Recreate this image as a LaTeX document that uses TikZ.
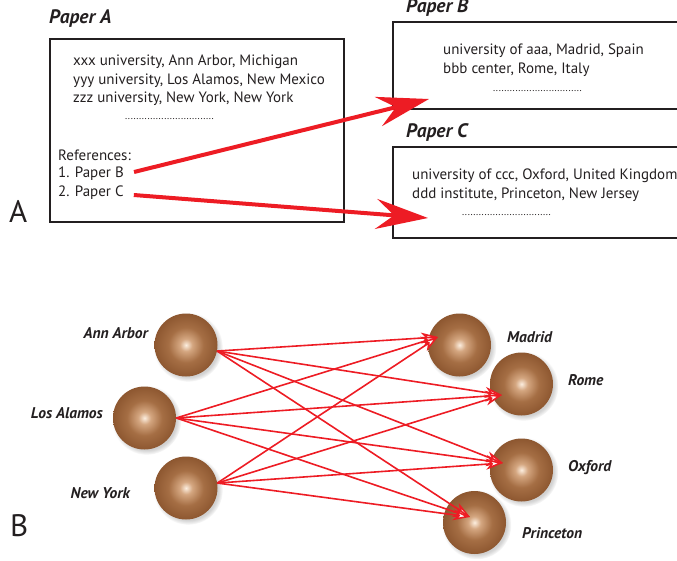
\documentclass[tikz,border=0pt]{standalone}
\usepackage{fontspec}
\setmainfont{PT Sans}
\usetikzlibrary{arrows.meta,calc,shadows}
\definecolor{myred}{HTML}{ED1C24}
\definecolor{ink}{HTML}{231F20}
\definecolor{sph0}{HTML}{FCEEDF}
\definecolor{sph1}{HTML}{D4A680}
\definecolor{sph2}{HTML}{A56E44}
\definecolor{sph3}{HTML}{87512B}
\definecolor{sph4}{HTML}{6B3318}
\definecolor{sph5}{HTML}{4A1D0A}
\pgfdeclareradialshading{sphere}{\pgfpoint{0bp}{0bp}}{color(0bp)=(sph0); color(5bp)=(sph1); color(14bp)=(sph2); color(28bp)=(sph3); color(41bp)=(sph4); color(50bp)=(sph5); color(100bp)=(sph5)}
\begin{document}
\begin{tikzpicture}[x=1pt,y=-1pt,
  body/.style={font=\fontsize{15}{18}\selectfont, text=ink, inner sep=0pt, anchor=west},
  dots/.style={font=\fontsize{10}{12}\selectfont, text=ink, inner sep=0pt, anchor=west},
  ttl/.style={font=\fontsize{19.5}{22}\selectfont\bfseries\itshape, text=ink, inner sep=0pt, anchor=west},
  big/.style={font=\fontsize{31}{34}\selectfont, text=ink, inner sep=0pt, anchor=west},
  lbl/.style={font=\fontsize{15.5}{18}\selectfont\bfseries\itshape, text=ink, inner sep=0pt},
  paper/.style={draw=ink, line width=2pt, anchor=north west, inner sep=0pt},
  sphere/.style={circle, minimum size=63pt, inner sep=0pt, shading=sphere,
     circular drop shadow={shadow xshift=2pt, shadow yshift=-2pt, opacity=0.3, fill=black!60}},
  bigarrow/.style={draw=myred, line width=4pt, -{Stealth[length=52pt,width=30pt,inset=18pt]}},
  link/.style={draw=myred, line width=1.6pt, -{Stealth[length=17pt,width=11pt,inset=5pt,open,fill=white]}}
]
\useasboundingbox (0,0) rectangle (677,560);
\clip (0,0) rectangle (677,560);

% ---------- part A ----------
\node[ttl] (tA) at (49,18.5) {Paper A};
\node[paper, minimum width=294pt, minimum height=183pt] (boxA) at (49,38) {};
\node[body] (a1) at (73,62) {xxx university, Ann Arbor, Michigan};
\node[body] (a2) at (73,81) {yyy university, Los Alamos, New Mexico};
\node[body] (a3) at (73,99) {zzz university, New York, New York};
\node[dots] (a4) at (125,119) {................................};
\node[body] (a5) at (58,155) {References:};
\node[body] (refB) at (58,174) {1. Paper B};
\node[body] (refC) at (58,193) {2. Paper C};
\node[big] (labA) at (9,211) {A};

\node[ttl] (tB) at (406,8) {Paper B};
\node[paper, minimum width=320pt, minimum height=87pt] (boxB) at (392,21) {};
\node[body] (b1) at (443,51) {university of aaa, Madrid, Spain};
\node[body] (b2) at (443,70) {bbb center, Rome, Italy};
\node[dots] (b3) at (493,91) {................................};

\node[ttl] (tC) at (406,132) {Paper C};
\node[paper, minimum width=320pt, minimum height=91pt] (boxC) at (392,146) {};
\node[body] (c1) at (412,176) {university of ccc, Oxford, United Kingdom};
\node[body] (c2) at (412,195) {ddd institute, Princeton, New Jersey};
\node[dots] (c3) at (462,215) {................................};

\coordinate (tipB) at (429,99);
\coordinate (tipC) at (428,218);
\draw[bigarrow] ($(refB.east)+(10,-2)$) -- (tipB);
\draw[bigarrow] ($(refC.east)+(10,2)$) -- (tipC);

% ---------- part B ----------
\node[big] (labB) at (10,526) {B};

\node[sphere] (AA) at (186,345) {};
\node[sphere] (LA) at (144.5,418) {};
\node[sphere] (NY) at (186,488) {};
\node[sphere] (MD) at (459.5,345) {};
\node[sphere] (RM) at (521.5,384) {};
\node[sphere] (OX) at (521.5,470) {};
\node[sphere] (PR) at (474.5,522.5) {};

\node[lbl, anchor=east] (lAA) at (148,333) {Ann Arbor};
\node[lbl, anchor=east] (lLA) at (103,413) {Los Alamos};
\node[lbl, anchor=east] (lNY) at (130,493) {New York};
\node[lbl, anchor=west] (lMD) at (507,337) {Madrid};
\node[lbl, anchor=west] (lRM) at (568,380) {Rome};
\node[lbl, anchor=west] (lOX) at (568,468) {Oxford};
\node[lbl, anchor=west] (lPR) at (522,533) {Princeton};

\coordinate (tMD) at ($(MD.center)+(-21.5,-8)$);
\coordinate (tRM) at ($(RM.center)+(-19.5,11)$);
\coordinate (tOX) at ($(OX.center)+(-18.5,-7)$);
\coordinate (tPR) at ($(PR.center)+(-4.5,-5.5)$);
\coordinate (sAA) at (AA.-11);
\coordinate (sLA) at (LA.east);
\coordinate (sNY) at (NY.9);

\foreach \s in {sAA,sLA,sNY}{
  \foreach \t in {tMD,tRM,tOX,tPR}{
    \draw[link] (\s) -- (\t);
  }
}
\end{tikzpicture}
\end{document}
